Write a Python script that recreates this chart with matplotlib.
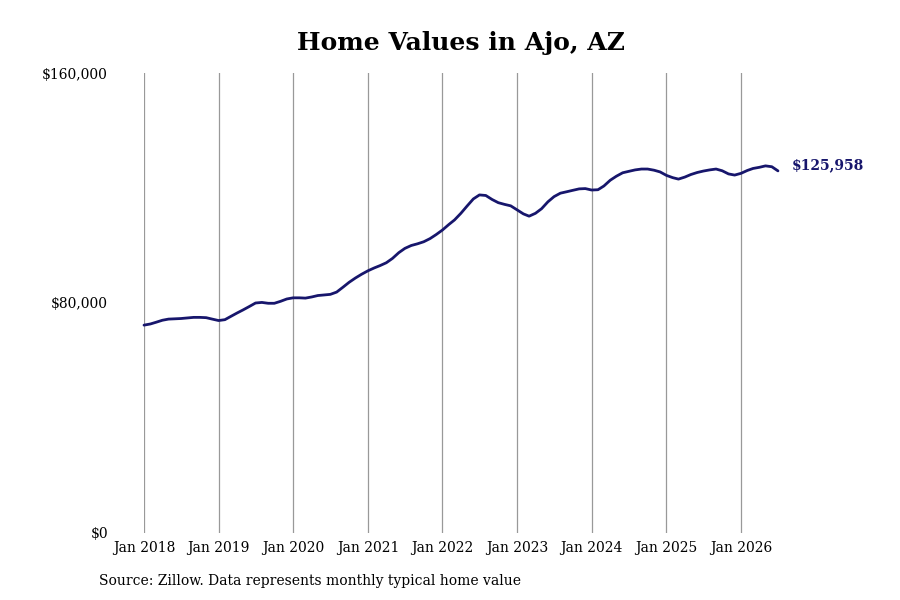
import numpy as np
import pandas as pd
import matplotlib
matplotlib.use("Agg")
import matplotlib.pyplot as plt

# --- Data (thousands of $, monthly, Jan 2018 - Jul 2026) ---
values_k = [
    72.3, 72.7, 73.3, 74.0, 74.4, 74.5, 74.6, 74.8, 75.0, 75.0, 74.9, 74.4,
    73.9, 74.2, 75.3, 76.5, 77.6, 78.8, 80.0, 80.2, 79.9, 79.9, 80.6, 81.4,
    81.8, 81.8, 81.7, 82.1, 82.6, 82.8, 83.0, 83.8, 85.5, 87.2, 88.7, 90.0,
    91.2, 92.2, 93.0, 94.0, 95.5, 97.5, 99.0, 100.0, 100.6, 101.3, 102.4, 103.8,
    105.4, 107.3, 108.9, 111.2, 113.7, 116.2, 117.6, 117.4, 116.0, 114.9, 114.3, 113.8,
    112.4, 111.0, 110.2, 111.2, 112.8, 115.2, 117.0, 118.2, 118.7, 119.2, 119.7, 119.8,
    119.3, 119.4, 120.7, 122.7, 124.1, 125.3, 125.8, 126.3, 126.6, 126.6, 126.2, 125.6,
    124.4, 123.6, 123.1, 123.8, 124.7, 125.4, 125.9, 126.3, 126.6, 126.0, 124.9, 124.5,
    125.1, 126.1, 126.8, 127.2, 127.7, 127.4, 125.958,
]
dates = pd.date_range("2018-01-01", periods=len(values_k), freq="MS")
values = np.array(values_k) * 1000

y_ticks = [0, 80000, 160000]
y_labels = ["$0", "$80,000", "$160,000"]
x_years = list(range(2018, 2027))
last_label = "$125,958"

navy = "#17166c"
plt.rcParams['font.family'] = ['DejaVu Serif']

fig = plt.figure(figsize=(9, 6), dpi=100)
ax = fig.add_axes([0.16, 0.1117, 0.7044, 0.7666])

ax.plot(dates, values, color=navy, linewidth=2, solid_capstyle='round', clip_on=False)

ax.set_ylim(0, 160000)
ax.set_xlim(dates[0], dates[-1])
ax.set_yticks(y_ticks)
ax.set_yticklabels(y_labels, fontsize=10)

xt = [pd.Timestamp(f"{y}-01-01") for y in x_years]
ax.set_xticks(xt)
ax.set_xticklabels([f"Jan {y}" for y in x_years], fontsize=10)
ax.tick_params(axis='both', length=0)
ax.tick_params(axis='x', pad=6)
ax.tick_params(axis='y', pad=26)

ax.xaxis.grid(True, color='#999999', linewidth=0.9)
ax.yaxis.grid(False)
for s in ax.spines.values():
    s.set_visible(False)

ax.annotate(last_label, xy=(dates[-1], values[-1]), xytext=(10, 4),
            textcoords='offset points', va='center', ha='left',
            fontsize=10, fontweight='bold', color=navy)

fig.text(0.512, 0.928, "Home Values in Ajo, AZ", ha='center', va='center',
         fontsize=18, fontweight='bold')
fig.text(0.11, 0.032, "Source: Zillow. Data represents monthly typical home value",
         ha='left', va='center', fontsize=10)

fig.savefig("out.png", dpi=100, facecolor='white')
